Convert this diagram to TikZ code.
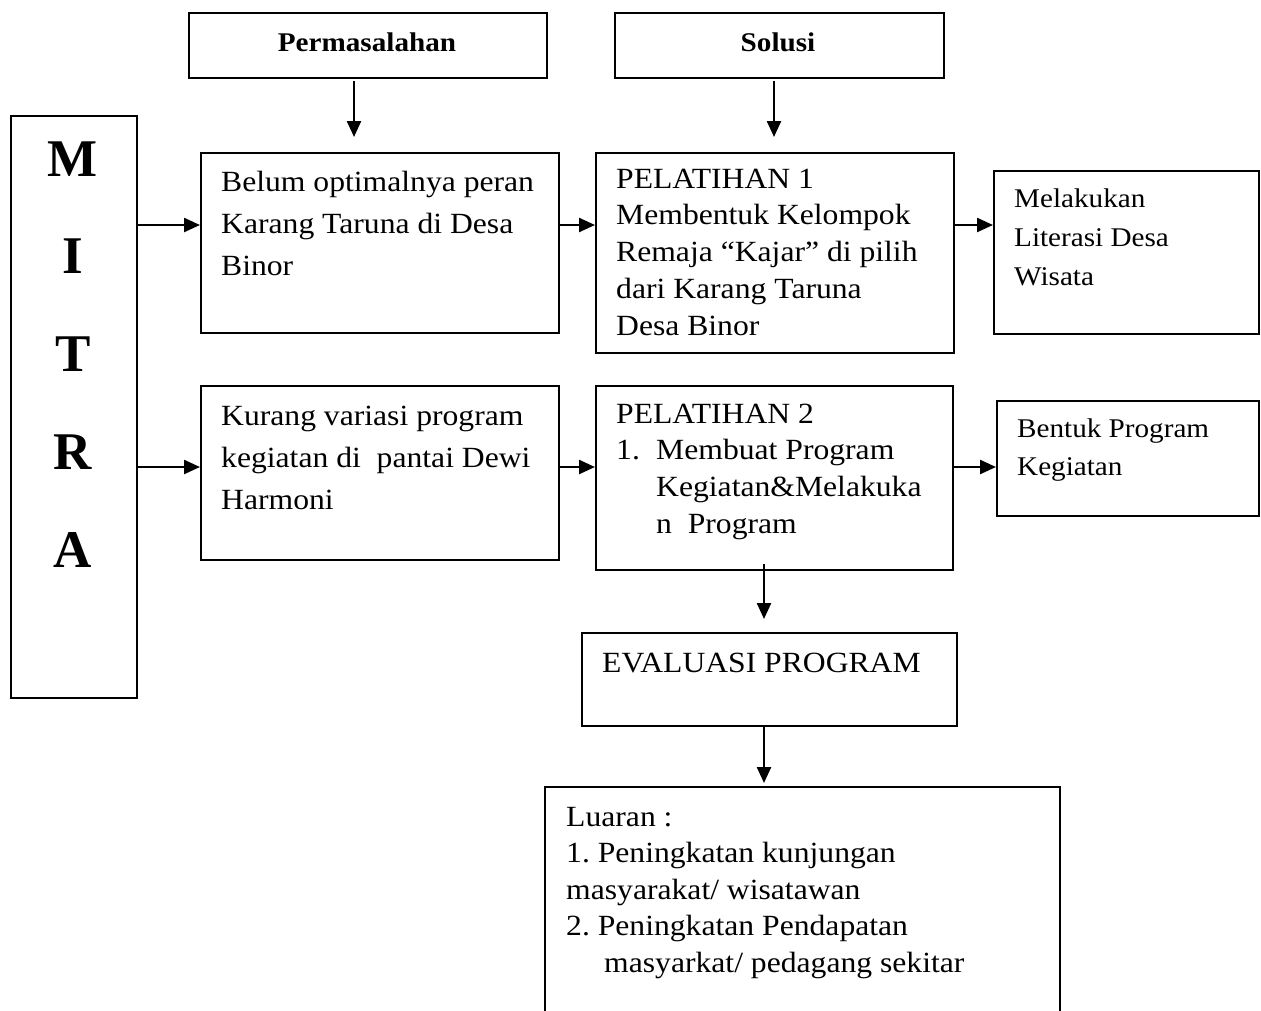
\documentclass[tikz,border=0pt]{standalone}
\usepackage{fontspec}
\setmainfont{Liberation Serif}[FakeStretch=1.08]
\newfontfamily\plainserif{Liberation Serif}
\usetikzlibrary{arrows.meta}
\newcommand\tlines[3]{\parbox[t]{520pt}{\frenchspacing\fontsize{#1}{#2}\selectfont #3}}
\begin{document}
\begin{tikzpicture}[x=1pt,y=-1pt]
\tikzset{
  box/.style={draw, line width=1.8pt, rectangle, inner sep=0pt, anchor=north west},
  txt/.style={anchor=base west, inner sep=0pt},
  head/.style={anchor=base, inner sep=0pt, font=\bfseries\fontsize{27}{32}\selectfont},
  letter/.style={anchor=base, inner sep=0pt, font=\plainserif\bfseries\fontsize{53}{53}\selectfont},
  arr/.style={line width=2.4pt, -{Triangle[length=16pt,width=14pt]}},
}
\clip (0,0) rectangle (1261,1010);
\fill[white] (0,0) rectangle (1261,1010);

% boxes
\node[box, minimum width=358pt, minimum height=65pt] (perm) at (188,12) {};
\node[box, minimum width=329pt, minimum height=65pt] (sol) at (614,12) {};
\node[box, minimum width=126pt, minimum height=582pt] (mitra) at (10,115) {};
\node[box, minimum width=358pt, minimum height=180pt] (b1) at (200,152) {};
\node[box, minimum width=358pt, minimum height=174pt] (b2) at (200,385) {};
\node[box, minimum width=358pt, minimum height=200pt] (p1) at (595,152) {};
\node[box, minimum width=357pt, minimum height=184pt] (p2) at (595,385) {};
\node[box, minimum width=265pt, minimum height=163pt] (mel) at (993,170) {};
\node[box, minimum width=262pt, minimum height=115pt] (ben) at (996,400) {};
\node[box, minimum width=375pt, minimum height=93pt] (eval) at (581,632) {};
\node[box, minimum width=515pt, minimum height=260pt] (lua) at (544,786) {};

% headings
\node[head] (permt) at (367,51) {Permasalahan};
\node[head] (solt) at (778,51) {Solusi};

% MITRA
\node[letter] (lm) at (73,176) {M};
\node[letter] (li) at (73,273) {I};
\node[letter] (lt) at (73,371) {T};
\node[letter] (lr) at (73,469) {R};
\node[letter] (la) at (73,567) {A};

% texts
\node[txt] (b1t) at (221,191) {\tlines{29.3}{42}{Belum optimalnya peran\\Karang Taruna di Desa\\Binor}};
\node[txt] (b2t) at (221,425) {\tlines{29.3}{42}{Kurang variasi program\\kegiatan di\ \ pantai Dewi\\Harmoni}};
\node[txt] (p1t) at (616,188) {\tlines{29.3}{36.8}{PELATIHAN 1\\Membentuk Kelompok\\Remaja “Kajar” di pilih\\dari Karang Taruna\\Desa Binor}};
\node[txt] (p2t) at (616,423) {\tlines{29.3}{36.7}{PELATIHAN 2\\\makebox[40pt][l]{1.}Membuat Program\\\hspace*{40pt}Kegiatan\&Melakuka\\\hspace*{40pt}n\ \ Program}};
\node[txt] (melt) at (1014,207) {\tlines{27}{39}{Melakukan\\Literasi Desa\\Wisata}};
\node[txt] (bent) at (1017,437) {\tlines{27}{38}{Bentuk Program\\Kegiatan}};
\node[txt] (evalt) at (602,672) {\tlines{29.3}{36}{EVALUASI PROGRAM}};
\node[txt] (luat) at (566,826) {\tlines{29.3}{36.5}{Luaran :\\1. Peningkatan kunjungan\\masyarakat/ wisatawan\\2. Peningkatan Pendapatan\\\hspace*{38pt}masyarkat/ pedagang sekitar}};

% connector guides
\coordinate (xa) at (354,0);
\coordinate (xb) at (774,0);
\coordinate (xc) at (764,0);
\coordinate (ya) at (0,225);
\coordinate (yb) at (0,467);

% vertical arrows
\draw[arr, shorten <=2pt, shorten >=15pt] (xa |- perm.south) -- (xa |- b1.north);
\draw[arr, shorten <=2pt, shorten >=15pt] (xb |- sol.south) -- (xb |- p1.north);
\draw[arr, shorten <=-7pt, shorten >=13pt] (xc |- p2.south) -- (xc |- eval.north);
\draw[arr, shorten >=3pt] (xc |- eval.south) -- (xc |- lua.north);

% horizontal arrows
\draw[arr] (ya -| mitra.east) -- (ya -| b1.west);
\draw[arr] (ya -| b1.east) -- (ya -| p1.west);
\draw[arr] (ya -| p1.east) -- (ya -| mel.west);
\draw[arr] (yb -| mitra.east) -- (yb -| b2.west);
\draw[arr] (yb -| b2.east) -- (yb -| p2.west);
\draw[arr] (yb -| p2.east) -- (yb -| ben.west);
\end{tikzpicture}
\end{document}
